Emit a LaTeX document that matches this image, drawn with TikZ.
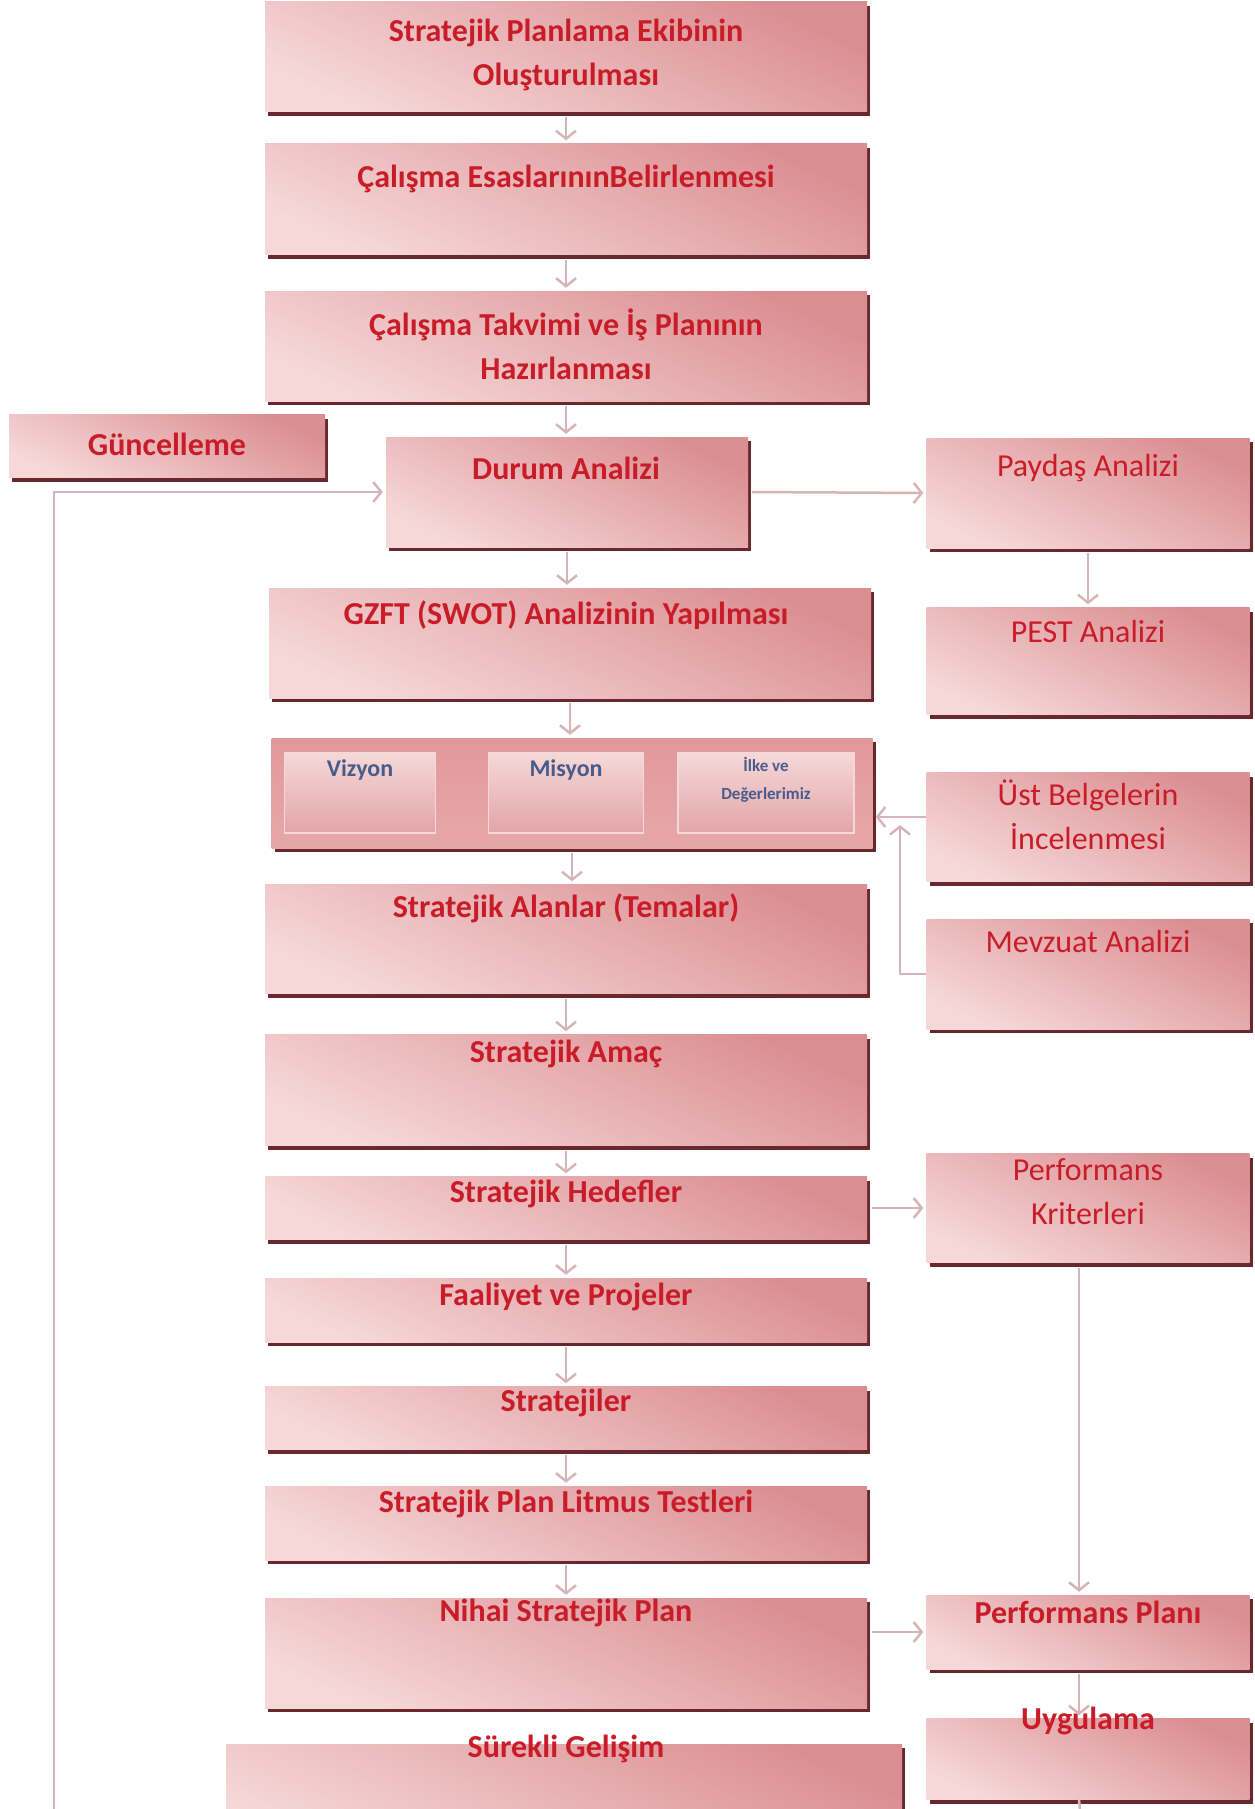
\documentclass[tikz,border=0pt]{standalone}
\usepackage{fontspec}
\setmainfont{Carlito}
\usetikzlibrary{positioning,shadows,arrows.meta}
\definecolor{boxrose}{RGB}{219,142,146}
\definecolor{boxpale}{RGB}{246,216,216}
\definecolor{boxshade}{RGB}{105,40,46}
\definecolor{framerose}{RGB}{226,152,155}
\definecolor{txtred}{RGB}{200,28,40}
\definecolor{txtblue}{RGB}{72,92,140}
\definecolor{linkpink}{RGB}{214,180,186}

\begin{document}
\begin{tikzpicture}[x=1pt,y=-1pt,
    box/.style={rectangle, inner sep=0pt, top color=boxrose, bottom color=boxpale, shading angle=-25,
        general shadow={fill=boxshade, shadow xshift=3pt, shadow yshift=-4pt}},
    frame/.style={box, top color=framerose, bottom color=framerose!85!white},
    inbox/.style={rectangle, inner sep=0pt, top color=boxpale, bottom color=boxrose!80!white,
        draw=boxpale, line width=1.5pt},
    lbl/.style={text=txtred, font=\fontsize{32}{44}\selectfont\bfseries, align=center, inner sep=0pt},
    lblr/.style={lbl, font=\fontsize{32}{44}\selectfont},
    lblv/.style={lbl, text=txtblue, font=\fontsize{24}{28}\selectfont\bfseries},
    lbls/.style={lblv, font=\fontsize{17}{28}\selectfont\bfseries},
    link/.style={draw=linkpink, line width=2.5pt, shorten >=3pt,
        -{Straight Barb[length=8pt,width=20pt,line width=2.5pt]}},
]
    \clip (0,0) rectangle (1254,1809);
    \useasboundingbox (0,0) rectangle (1254,1809);

    % main column
    \node[box, minimum width=602pt, minimum height=110pt] (plan)     at (566,  57) {};
    \node[box, minimum width=602pt, minimum height=111pt] (esas)     at (566, 199) {};
    \node[box, minimum width=602pt, minimum height=110pt] (takvim)   at (566, 346) {};
    \node[box, minimum width=316pt, minimum height=63pt]  (guncel)   at (167, 446) {};
    \node[box, minimum width=362pt, minimum height=110pt] (durum)    at (567, 492) {};
    \node[box, minimum width=602pt, minimum height=110pt] (gzft)     at (570, 643) {};
    \node[frame, minimum width=601pt, minimum height=110pt] (vision) at (572, 793) {};
    \node[box, minimum width=602pt, minimum height=109pt] (alanlar)  at (566, 939) {};
    \node[box, minimum width=602pt, minimum height=111pt] (amac)     at (566,1090) {};
    \node[box, minimum width=602pt, minimum height=63pt]  (hedef)    at (566,1208) {};
    \node[box, minimum width=602pt, minimum height=64pt]  (faaliyet) at (566,1310) {};
    \node[box, minimum width=602pt, minimum height=63pt]  (strat)    at (566,1418) {};
    \node[box, minimum width=602pt, minimum height=74pt]  (litmus)   at (566,1523) {};
    \node[box, minimum width=602pt, minimum height=110pt] (nihai)    at (566,1653) {};
    \node[box, minimum width=676pt, minimum height=110pt] (surekli)  at (564,1799) {};

    % inner boxes of the frame
    \node[inbox, minimum width=151pt, minimum height=80pt] (vizyon) at (360,793) {};
    \node[inbox, minimum width=155pt, minimum height=80pt] (misyon) at (566,793) {};
    \node[inbox, minimum width=176pt, minimum height=80pt] (ilke)   at (766,793) {};

    % right column
    \node[box, minimum width=323pt, minimum height=110pt] (paydas)  at (1088, 493) {};
    \node[box, minimum width=323pt, minimum height=107pt] (pest)    at (1088, 661) {};
    \node[box, minimum width=323pt, minimum height=109pt] (ust)     at (1088, 827) {};
    \node[box, minimum width=323pt, minimum height=110pt] (mevzuat) at (1088, 974) {};
    \node[box, minimum width=323pt, minimum height=109pt] (kriter)  at (1088,1208) {};
    \node[box, minimum width=323pt, minimum height=74pt]  (pplan)   at (1088,1632) {};
    \node[box, minimum width=323pt, minimum height=81pt]  (uygula)  at (1088,1759) {};

    % texts
    \node[lbl]  (tplan)    at (566,  55) {Stratejik Planlama Ekibinin\\Oluşturulması};
    \node[lbl]  (tesas)    at (566, 179) {Çalışma EsaslarınınBelirlenmesi};
    \node[lbl]  (ttakvim)  at (566, 344) {Çalışma Takvimi ve İş Planının\\Hazırlanması};
    \node[lbl]  (tguncel)  at (167, 444) {Güncelleme};
    \node[lbl]  (tdurum)   at (566, 468) {Durum Analizi};
    \node[lbl]  (tgzft)    at (566, 615) {GZFT (SWOT) Analizinin Yapılması};
    \node[lblv] (tvizyon)  at (360, 770) {Vizyon};
    \node[lblv] (tmisyon)  at (566, 770) {Misyon};
    \node[lbls] (tilke)    at (766, 780) {İlke ve\\Değerlerimiz};
    \node[lbl]  (talanlar) at (566, 908) {Stratejik Alanlar (Temalar)};
    \node[lbl]  (tamac)    at (566,1054) {Stratejik Amaç};
    \node[lbl]  (thedef)   at (566,1194) {Stratejik Hedefler};
    \node[lbl]  (tfaal)    at (566,1297) {Faaliyet ve Projeler};
    \node[lbl]  (tstrat)   at (566,1403) {Stratejiler};
    \node[lbl]  (tlitmus)  at (566,1504) {Stratejik Plan Litmus Testleri};
    \node[lbl]  (tnihai)   at (566,1613) {Nihai Stratejik Plan};
    \node[lbl]  (tsurekli) at (566,1749) {Sürekli Gelişim};
    \node[lblr] (tpaydas)  at (1088, 468) {Paydaş Analizi};
    \node[lblr] (tpest)    at (1088, 632) {PEST Analizi};
    \node[lblr] (tust)     at (1088, 815) {Üst Belgelerin\\İncelenmesi};
    \node[lblr] (tmevzuat) at (1088, 941) {Mevzuat Analizi};
    \node[lblr] (tkriter)  at (1088,1192) {Performans\\Kriterleri};
    \node[lbl]  (tpplan)   at (1088,1612) {Performans Planı};
    \node[lbl]  (tuygula)  at (1088,1721) {Uygulama};

    % connectors
    \foreach \a/\b in {plan/esas, esas/takvim, takvim/durum, durum/gzft, gzft/vision,
        vision/alanlar, alanlar/amac, amac/hedef, hedef/faaliyet, faaliyet/strat,
        strat/litmus, litmus/nihai}
        \draw[link, shorten <=5pt] (\a.south) -- (\a.south |- \b.north);

    \coordinate (loopfoot) at (54,1809);
    \coordinate (mevtip)   at (900,822);
    \coordinate (uygfoot)  at (1080,1809);

    \draw[link] (loopfoot) |- (durum.west);
    \draw[link, shorten <=4pt] (durum.east) -- (paydas.west);
    \draw[link, shorten <=5pt] (paydas.south) -- (pest.north);
    \draw[link] ([yshift=10pt]ust.west) -- ([yshift=10pt]ust.west -| vision.east);
    \draw[link] (mevzuat.west) -| (mevtip);
    \draw[link, shorten <=5pt] (hedef.east) -- (kriter.west);
    \draw[link, shorten <=5pt] ([xshift=-9pt]kriter.south) -- ([xshift=-9pt]kriter.south |- pplan.north);
    \draw[link, shorten <=5pt] (pplan.west -| nihai.east) -- (pplan.west);
    \draw[link, shorten <=5pt] ([xshift=-9pt]pplan.south) -- ([xshift=-9pt]pplan.south |- uygula.north);
    \draw[draw=linkpink, line width=2.5pt] ([xshift=-9pt]uygula.south) -- (uygfoot);
\end{tikzpicture}
\end{document}
